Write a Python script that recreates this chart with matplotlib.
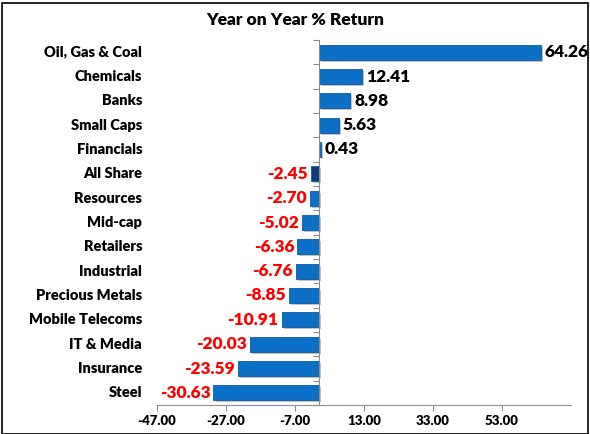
import matplotlib
matplotlib.use("Agg")
import matplotlib.pyplot as plt
import matplotlib.patheffects as pe
from matplotlib.transforms import blended_transform_factory, offset_copy

categories = ["Oil, Gas & Coal", "Chemicals", "Banks", "Small Caps", "Financials",
              "All Share", "Resources", "Mid-cap", "Retailers", "Industrial",
              "Precious Metals", "Mobile Telecoms", "IT & Media", "Insurance", "Steel"]
values = [64.26, 12.41, 8.98, 5.63, 0.43, -2.45, -2.70, -5.02, -6.36, -6.76,
          -8.85, -10.91, -20.03, -23.59, -30.63]
xticks = [-47, -27, -7, 13, 33, 53]
title = "Year on Year % Return"
highlight = "All Share"

plt.rcParams['font.family'] = ['Lato', 'DejaVu Sans']
W = 'heavy'

fig = plt.figure(figsize=(5.9, 4.34), dpi=100)
ax = fig.add_axes([157/590, (434-405)/434, (571-157)/590, (405-40)/434])

n = len(categories)
ypos = list(range(n - 1, -1, -1))
colors = ['#0F3B7A' if c == highlight else '#0C6FC6' for c in categories]
bars = ax.barh(ypos, values, height=0.62, color=colors, edgecolor='#0A5AA0',
               linewidth=0.6, zorder=3)
for b in bars:
    b.set_path_effects([pe.SimplePatchShadow(offset=(1.5, -1.5), shadow_rgbFace='#9a9a9a', alpha=0.6), pe.Normal()])

ax.set_xlim(-47, 73)
ax.set_ylim(-0.5, n - 0.5)

for y, v in zip(ypos, values):
    if v >= 0:
        t = offset_copy(ax.transData, fig=fig, x=4, y=0, units='dots')
        ax.text(v, y, f"{v:.2f}", transform=t, ha='left', va='center',
                fontsize=12.5, fontweight=W, color='black')
    else:
        t = offset_copy(ax.transData, fig=fig, x=-3, y=0, units='dots')
        ax.text(v, y, f"{v:.2f}", transform=t, ha='right', va='center',
                fontsize=12.5, fontweight=W, color='#FF0000')

trans = blended_transform_factory(ax.transAxes, ax.transData)
for y, c in zip(ypos, categories):
    ax.text(-0.036, y, c, transform=trans, ha='right', va='center',
            fontsize=10.5, fontweight=W, color='black')

# vertical axis at zero
ax.spines['left'].set_position(('data', 0))
ax.spines['left'].set_color('#8c8c8c')
ax.spines['left'].set_zorder(4)
ax.set_yticks([i - 0.5 for i in range(n + 1)])
ax.set_yticklabels([])
ax.tick_params(axis='y', direction='out', length=4, color='#8c8c8c')
ax.spines['right'].set_visible(False)
ax.spines['top'].set_visible(False)
ax.spines['bottom'].set_color('#8c8c8c')

ax.set_xticks(xticks)
ax.set_xticklabels([f"{x:.2f}" for x in xticks], fontsize=9.5, fontweight=W)
ax.tick_params(axis='x', direction='out', length=4, color='#8c8c8c', pad=3)

fig.text(0.5, 1 - 20/434, title, ha='center', va='center', fontsize=12.5, fontweight=W)

border = plt.Rectangle((2/590, 0), 586/590, 1 - 3/434, transform=fig.transFigure,
                       fill=False, edgecolor='black', linewidth=1.2)
fig.patches.append(border)

fig.savefig("out.png", dpi=100)
